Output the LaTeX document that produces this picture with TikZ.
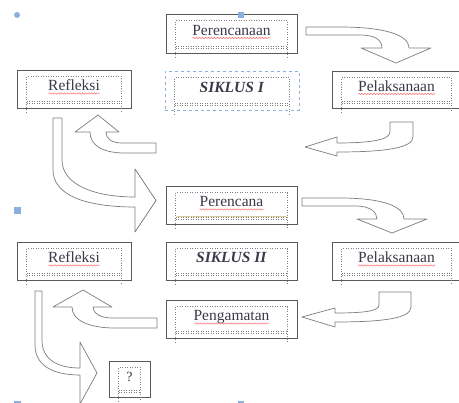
\documentclass[tikz,border=0pt]{standalone}
\usepackage{fontspec}
\setmainfont{Liberation Serif}
\usetikzlibrary{calc,decorations.pathmorphing}
\definecolor{tepi}{RGB}{90,90,90}
\definecolor{panahabu}{RGB}{125,125,125}
\definecolor{huruf}{RGB}{58,58,74}
\definecolor{pilih}{RGB}{140,175,225}
\definecolor{sorot}{RGB}{215,200,145}
\begin{document}
\begin{tikzpicture}[x=1pt,y=-1pt,
  kotak/.style={draw=tepi, line width=0.8pt, fill=white, minimum height=38pt, inner sep=0pt, text=huruf, font=\fontsize{15.5}{18}\selectfont, text height=11pt, text depth=7pt},
  dalam/.style={draw=gray, dotted, line width=0.5pt},
  panah/.style={draw=panahabu, fill=white, line width=0.7pt, line join=round},
  salah/.style={draw=red!55, line width=0.5pt, decorate, decoration={snake, amplitude=0.7pt, segment length=3pt}}]
\useasboundingbox (0,0) rectangle (459,403);
\clip (0,0) rectangle (459,403);
\fill[white] (0,0) rectangle (459,403);
\node[kotak, minimum width=131pt, minimum height=39pt] (rencana1) at (231.5,33.5) {Perencanaan};
\node[kotak, minimum width=114pt] (refleksi1) at (74,89) {Refleksi};
\node[kotak, minimum width=134pt, minimum height=39pt, draw=pilih, dashed, line width=0.6pt] (siklus1) at (232,90.5) {\textbf{\textit{SIKLUS I}}};
\node[kotak, minimum width=129pt, minimum height=37pt] (laksana1) at (396.5,89.5) {Pelaksanaan};
\node[kotak, minimum width=131pt] (rencana2) at (231.5,205) {Perencana};
\node[kotak, minimum width=114pt] (refleksi2) at (74,261) {Refleksi};
\node[kotak, minimum width=131pt] (siklus2) at (231.5,261) {\textbf{\textit{SIKLUS II}}};
\node[kotak, minimum width=129pt] (laksana2) at (396.5,261) {Pelaksanaan};
\node[kotak, minimum width=131pt] (amati) at (231.5,319) {Pengamatan};
\node[kotak, minimum width=41pt, minimum height=36pt, font=\fontsize{14}{16}\selectfont, text height=10pt, text depth=4pt] (tanya) at (129.5,379) {?};
\foreach \n in {rencana1,refleksi1,siklus1,laksana1,rencana2,refleksi2,siklus2,laksana2,amati,tanya} {
  \draw[dalam] ($(\n.south west)+(10,4)$) -- ($(\n.north west)+(10,7)$) -- ($(\n.north east)+(-10,7)$) -- ($(\n.south east)+(-10,4)$);
  \draw[dalam] ($(\n.south west)+(10,-7)$) -- ($(\n.south east)+(-10,-7)$);
  \draw[dalam] ($(\n.south west)+(10,-5)$) -- ($(\n.south east)+(-10,-5)$);
}
\draw[sorot, line width=1.5pt] ($(rencana2.south west)+(11,-8)$) -- ($(rencana2.south east)+(-11,-8)$);
\foreach \n/\w in {rencana1/39,refleksi1/25.5,laksana1/38.5,rencana2/32,refleksi2/25.5,laksana2/38.5,amati/37.5}
  \draw[salah] ($(\n.center)+(-\w,4.5)$) -- ($(\n.center)+(\w,4.5)$);
\draw[panah] (306,27) -- (340,27) .. controls (385,27) and (409,35) .. (409,48) -- (431,48) -- (396,63) -- (361,48) -- (382,48) .. controls (382,40) and (375,35) .. (360,35) -- (306,35) -- cycle;
\draw[panah] (390,122) -- (413,122) -- (413,137) .. controls (413,148) and (385,152) .. (337,152) -- (337,156) -- (305,147) -- (337,137) -- (337,143) .. controls (370,143) and (390,140) .. (390,132) -- cycle;
\draw[panah] (156,143) -- (156,153) -- (125,153) .. controls (102,153) and (90,145) .. (90,132) -- (75,132) -- (98,115) -- (119,132) -- (106,132) .. controls (106,139) and (112,143) .. (122,143) -- cycle;
\draw[panah] (53,118) -- (62,118) -- (62,160) .. controls (62,185) and (95,197) .. (135,197) -- (135,169) -- (156,200.5) -- (135,232) -- (135,207) .. controls (85,207) and (53,195) .. (53,170) -- cycle;
\draw[panah] (302,198) -- (339,198) .. controls (385,198) and (404,207) .. (404,219) -- (427,219) -- (392,233) -- (357,219) -- (377,219) .. controls (377,212) and (370,206) .. (356,206) -- (302,206) -- cycle;
\draw[panah] (379,292) -- (411,292) -- (411,307) .. controls (411,318) and (385,322) .. (335,322) -- (335,327) -- (302,317) -- (335,308) -- (335,313) .. controls (365,313) and (379,311) .. (379,305) -- cycle;
\draw[panah] (157,318) -- (157,328) -- (115,328) .. controls (88,328) and (72,320) .. (72,307) -- (53,307) -- (83,290) -- (112,307) -- (93,307) .. controls (93,313) and (100,318) .. (112,318) -- cycle;
\draw[panah] (35,291) -- (42,291) -- (42,340) .. controls (42,360) and (58,368) .. (80,368) -- (80,342) -- (97,373) -- (80,404) -- (80,375) .. controls (52,375) and (35,365) .. (35,345) -- cycle;
\fill[pilih] (17,15) circle (3pt);
\fill[pilih] (237.5,12) rectangle (243.5,18);
\fill[pilih] (14,207) rectangle (21,214);
\fill[pilih] (14,401) rectangle (21,406);
\fill[pilih] (238,401) rectangle (244,406);
\end{tikzpicture}
\end{document}
